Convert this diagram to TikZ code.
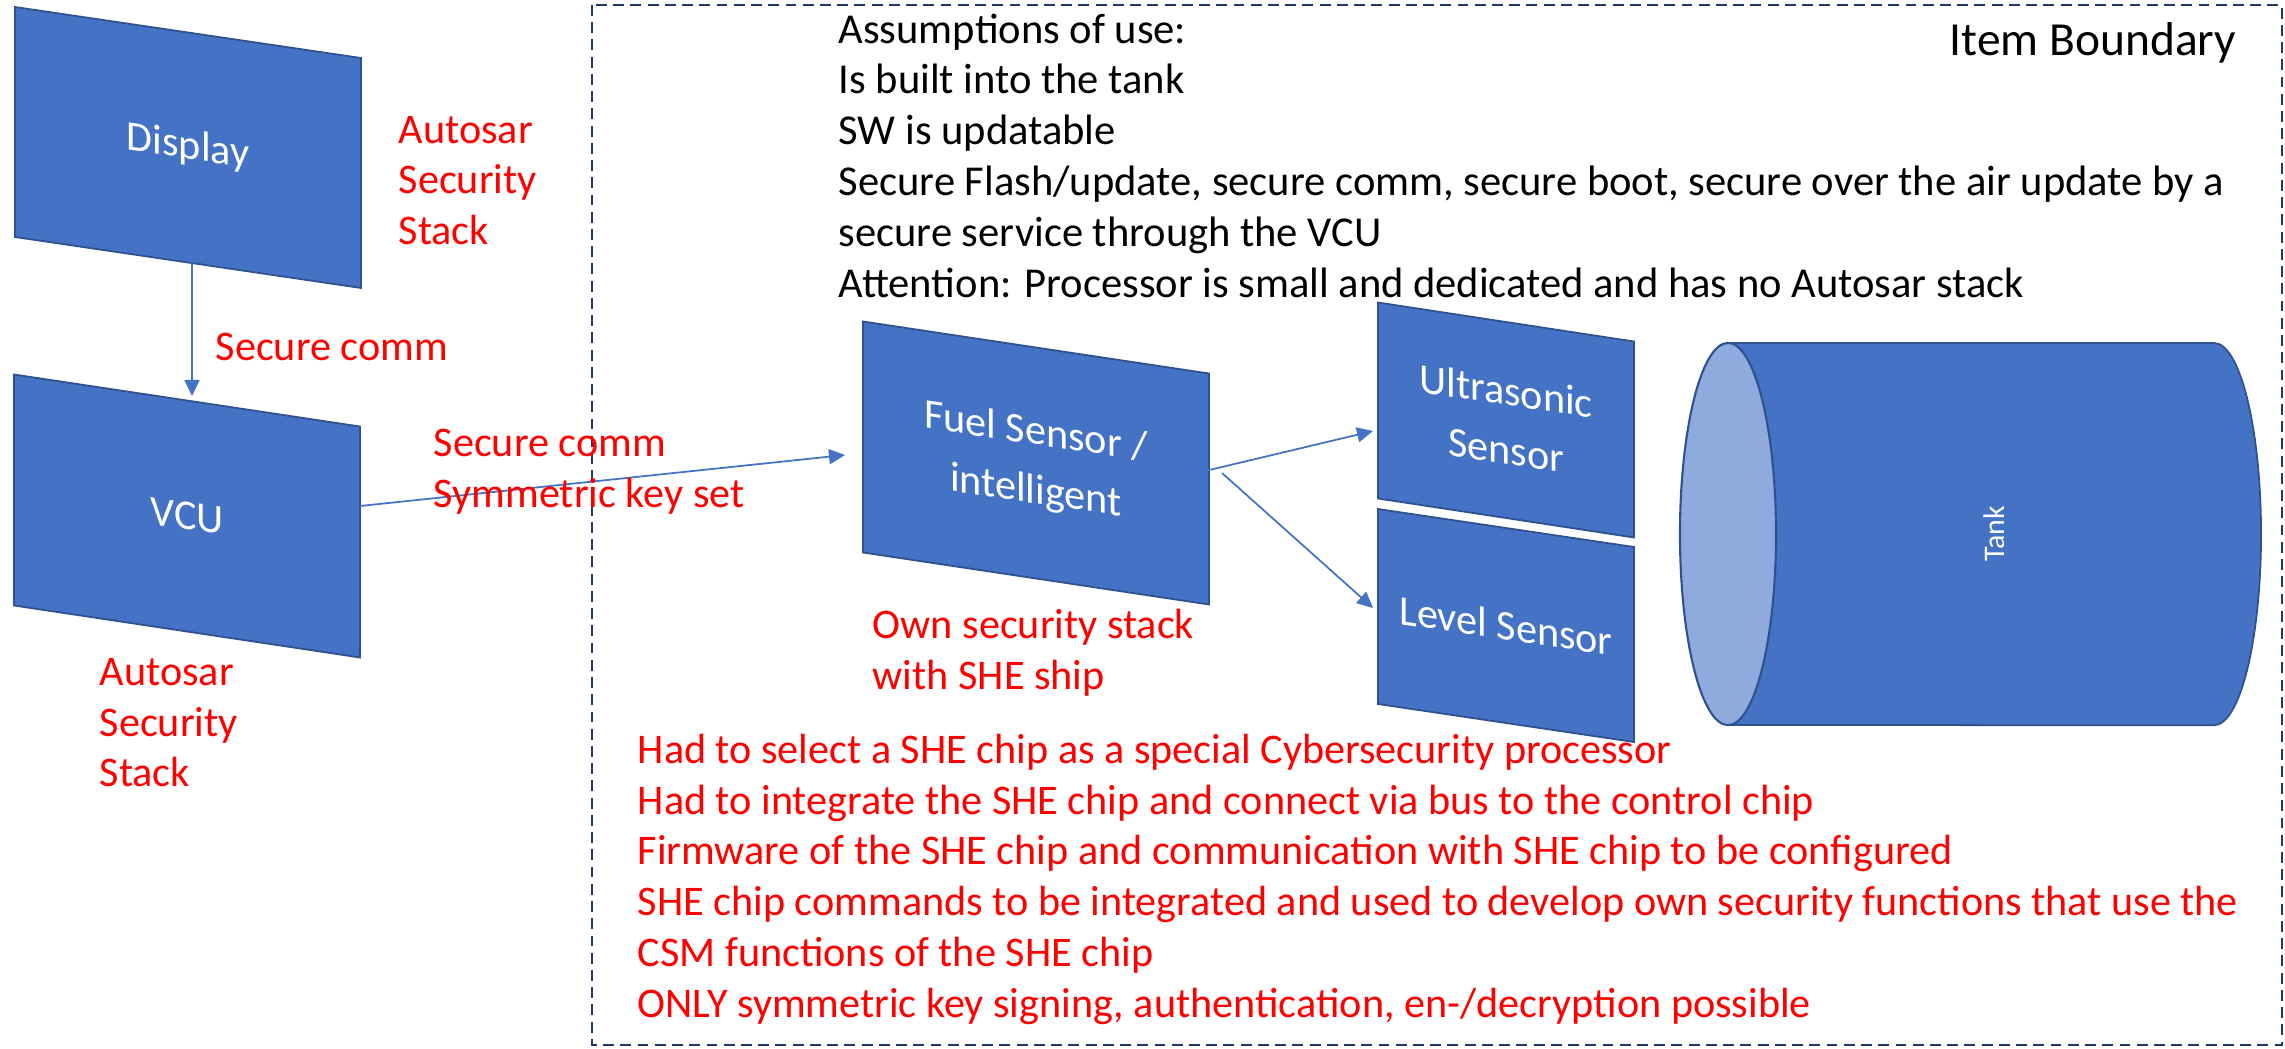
\documentclass[tikz,border=0pt]{standalone}
\usepackage{fontspec}
\setmainfont{Carlito}
\usetikzlibrary{arrows.meta}
\definecolor{boxblue}{HTML}{4472C4}
\definecolor{boxedge}{HTML}{2F528F}
\definecolor{lightblue}{HTML}{8FAADC}
\definecolor{navy}{HTML}{203864}
\definecolor{myred}{HTML}{FF0000}
\newcommand\slab[7]{%
  \path[slab] (#2-#4/2, #3-#5/2-#6/2) -- (#2+#4/2, #3-#5/2+#6/2) -- (#2+#4/2, #3+#5/2+#6/2) -- (#2-#4/2, #3+#5/2-#6/2) -- cycle;
  \node[slabtext] (#1) at (#2,#3) {#7};
}
\begin{document}
\begin{tikzpicture}[x=0.01cm,y=-0.01cm,
  slab/.style={fill=boxblue, draw=boxedge, line width=0.5pt},
  slabtext/.style={text=white, yslant=-0.148, align=center, inner sep=0pt, font=\fontsize{12}{16.8}\selectfont},
  conn/.style={draw=boxblue, line width=0.5pt, -{Triangle[length=0.16cm,width=0.15cm]}},
  redtxt/.style={anchor=base west, inner sep=0pt, text=myred, font=\fontsize{12}{14.5}\selectfont},
  blacktxt/.style={anchor=base west, inner sep=0pt, text=black, font=\fontsize{12.1}{14.5}\selectfont},
  boundary/.style={draw=navy, line width=0.8pt, dash pattern=on 3.1pt off 1.8pt}]
\useasboundingbox (0,0) rectangle (2285,1048);
\fill[white] (0,0) rectangle (2285,1048);

% item boundary
\draw[boundary] (592,5) rectangle (2282,1045);

% boxes
\slab{disp}{188}{147.5}{346}{230}{51}{Display}
\slab{vcu}{187}{516}{346}{231}{52}{VCU}
\slab{fuel}{1036}{463}{346}{231}{52}{Fuel Sensor /\\intelligent}
\slab{ultra}{1506}{420}{256}{196}{39}{Ultrasonic\\Sensor}
\slab{level}{1506}{625.5}{256}{195}{38}{Level Sensor}

% tank
\path[slab] (1728,343) -- (2214,343) arc[start angle=90, end angle=-90, x radius=0.47cm, y radius=1.91cm] -- (1728,725) -- cycle;
\path[fill=lightblue, draw=boxedge, line width=0.6pt] (1728,534) ellipse [x radius=0.48cm, y radius=1.91cm];
\node[text=white, rotate=90, inner sep=0pt, font=\fontsize{8.5}{10}\selectfont] (tank) at (1994,534) {Tank};

% connectors
\coordinate (dispS) at (192,263);
\coordinate (vcuN) at (192,396);
\coordinate (vcuE) at (360,506);
\coordinate (fuelW) at (845,455);
\coordinate (fuelE1) at (1205,471);
\coordinate (ultraW) at (1373,431);
\coordinate (fuelE2) at (1222,473);
\coordinate (levelW) at (1373,608);
\draw[conn] (dispS) -- (vcuN);
\draw[conn] (vcuE) -- (fuelW);
\draw[conn] (fuelE1) -- (ultraW);
\draw[conn] (fuelE2) -- (levelW);

% labels
\node[redtxt] (autoA) at (398,143) {\begin{tabular}[t]{@{}l@{}}Autosar\\Security\\Stack\end{tabular}};
\node[redtxt] (autoB) at (99,685) {\begin{tabular}[t]{@{}l@{}}Autosar\\Security\\Stack\end{tabular}};
\node[redtxt] (sc1) at (215,360) {Secure comm};
\node[redtxt] (sc2) at (433,456) {\begin{tabular}[t]{@{}l@{}}Secure comm\\Symmetric key set\end{tabular}};
\node[redtxt] (own) at (872,638) {\begin{tabular}[t]{@{}l@{}}Own security stack\\with SHE ship\end{tabular}};
\node[blacktxt] (assume) at (838,43) {\begin{tabular}[t]{@{}l@{}}Assumptions of use:\\Is built into the tank\\SW is updatable\\Secure Flash/update, secure comm, secure boot, secure over the air update by a\\secure service through the VCU\\Attention: Processor is small and dedicated and has no Autosar stack\end{tabular}};
\node[anchor=base west, inner sep=0pt, font=\fontsize{13.5}{16}\selectfont] (itemb) at (1949,55) {Item Boundary};
\node[redtxt] (notes) at (637,763) {\begin{tabular}[t]{@{}l@{}}Had to select a SHE chip as a special Cybersecurity processor\\Had to integrate the SHE chip and connect via bus to the control chip\\Firmware of the SHE chip and communication with SHE chip to be configured\\SHE chip commands to be integrated and used to develop own security functions that use the\\CSM functions of the SHE chip\\ONLY symmetric key signing, authentication, en-/decryption possible\end{tabular}};
\end{tikzpicture}
\end{document}
